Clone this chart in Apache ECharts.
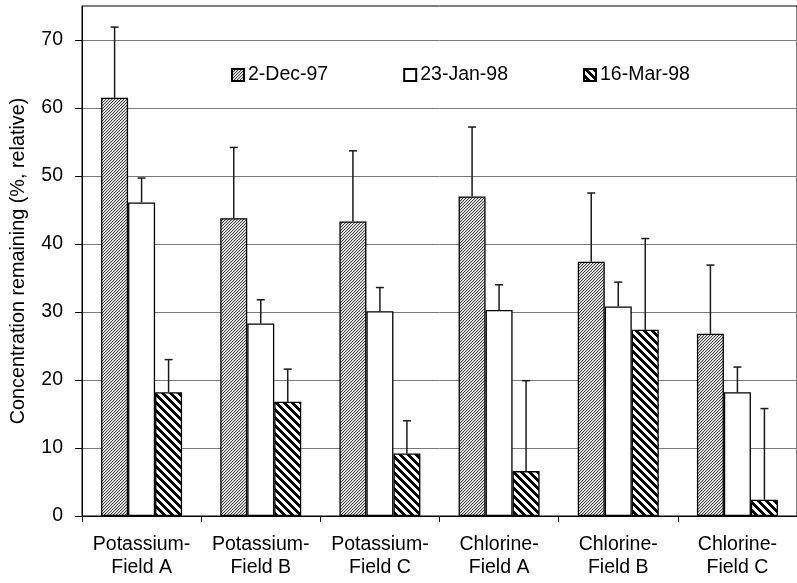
<!DOCTYPE html>
<html>
<head>
<meta charset="utf-8">
<script src="https://cdn.jsdelivr.net/npm/echarts@6/dist/echarts.min.js"></script>
<style>
html,body{margin:0;padding:0;background:#fff;}
#chart{width:797px;height:583px;}
</style>
</head>
<body>
<div id="chart"></div>
<script>
// ---- data ----
const categories = ['Potassium-\nField A', 'Potassium-\nField B', 'Potassium-\nField C', 'Chlorine-\nField A', 'Chlorine-\nField B', 'Chlorine-\nField C'];
const seriesNames = ['2-Dec-97', '23-Jan-98', '16-Mar-98'];
const dec97 = [61.5, 43.8, 43.3, 47.0, 37.4, 26.8];
const dec97Err = [10.4, 10.4, 10.4, 10.2, 10.1, 10.1];
const jan98 = [46.1, 28.3, 30.1, 30.3, 30.8, 18.2];
const jan98Err = [3.6, 3.5, 3.5, 3.7, 3.6, 3.7];
const mar98 = [18.2, 16.8, 9.2, 6.6, 27.4, 2.4];
const mar98Err = [4.8, 4.8, 4.8, 13.3, 13.4, 13.4];
const yTicks = [0, 10, 20, 30, 40, 50, 60, 70];

// ---- patterns ----
function makeTile(n, fn) {
  const c = document.createElement('canvas');
  c.width = n; c.height = n;
  const ctx = c.getContext('2d');
  const img = ctx.createImageData(n, n);
  for (let y = 0; y < n; y++) for (let x = 0; x < n; x++) {
    const v = fn(x, y);
    const k = (y * n + x) * 4;
    img.data[k] = v; img.data[k+1] = v; img.data[k+2] = v; img.data[k+3] = 255;
  }
  ctx.putImageData(img, 0, 0);
  return c;
}
const fineHatch = makeTile(3, (x, y) => ((x + y) % 3 === 0 ? 70 : ((x + y) % 3 === 1 ? 200 : 245)));
const boldHatch = makeTile(8, (x, y) => (((x - y + 64) % 8) < 4 ? 0 : 255));

const fills = [
  {image: fineHatch, repeat: 'repeat'},
  '#ffffff',
  {image: boldHatch, repeat: 'repeat'}
];
const values = [dec97, jan98, mar98];
const errors = [dec97Err, jan98Err, mar98Err];
const BAR_W = 27;

const barSeries = values.map((vals, s) => ({
  name: seriesNames[s],
  type: 'bar',
  data: vals,
  barWidth: BAR_W,
  barGap: '0%',
  itemStyle: {color: fills[s], borderColor: '#000', borderWidth: 1.3},
  emphasis: {disabled: true},
  z: 2
}));

const errSeries = values.map((vals, s) => ({
  name: 'err' + s,
  type: 'custom',
  data: vals.map((v, i) => [i, v, errors[s][i]]),
  encode: {x: 0, y: 1},
  z: 5,
  silent: true,
  renderItem: function (params, api) {
    const ci = api.value(0), v = api.value(1), e = api.value(2);
    const base = api.coord([ci, v]);
    const top = api.coord([ci, v + e]);
    const x = base[0] + (s - 1) * BAR_W;
    const st = {stroke: '#1a1a1a', lineWidth: 1.5};
    return {type: 'group', children: [
      {type: 'line', shape: {x1: x, y1: base[1], x2: x, y2: top[1]}, style: st},
      {type: 'line', shape: {x1: x - 4, y1: top[1], x2: x + 4, y2: top[1]}, style: st}
    ]};
  }
}));

const chart = echarts.init(document.getElementById('chart'), null, {renderer: 'canvas'});
const font = '"Liberation Sans", Arial, sans-serif';
chart.setOption({
  animation: false,
  backgroundColor: '#ffffff',
  textStyle: {fontFamily: font, color: '#000'},
  grid: {left: 82, top: 6, right: -7, bottom: 67, show: true, borderColor: '#000', borderWidth: 1, backgroundColor: 'transparent'},
  legend: {
    data: seriesNames,
    left: 231, top: 65,
    padding: 0,
    itemGap: 75,
    itemWidth: 12, itemHeight: 12,
    icon: 'rect',
    textStyle: {fontFamily: font, fontSize: 19.5, color: '#000', padding: [0, 0, 0, -1]},
    selectedMode: false
  },
  xAxis: {
    type: 'category',
    data: categories,
    axisLine: {lineStyle: {color: '#000', width: 1}},
    axisTick: {show: true, length: 6, lineStyle: {color: '#000'}},
    axisLabel: {fontFamily: font, fontSize: 19.5, color: '#000', lineHeight: 23, margin: 17, interval: 0},
    splitLine: {show: false}
  },
  yAxis: {
    type: 'value',
    min: 0, max: 75, interval: 10,
    name: 'Concentration remaining (%, relative)',
    nameLocation: 'middle',
    nameGap: 53,
    nameTextStyle: {fontFamily: font, fontSize: 19.8, color: '#000'},
    axisLine: {show: true, lineStyle: {color: '#000', width: 1}},
    axisTick: {show: true, length: 7, lineStyle: {color: '#000'}, customValues: yTicks},
    axisLabel: {fontFamily: font, fontSize: 19.5, color: '#000', margin: 19, customValues: yTicks},
    splitLine: {show: true, lineStyle: {color: '#7a7a7a', width: 1}}
  },
  series: barSeries.concat(errSeries)
});
</script>
</body>
</html>
